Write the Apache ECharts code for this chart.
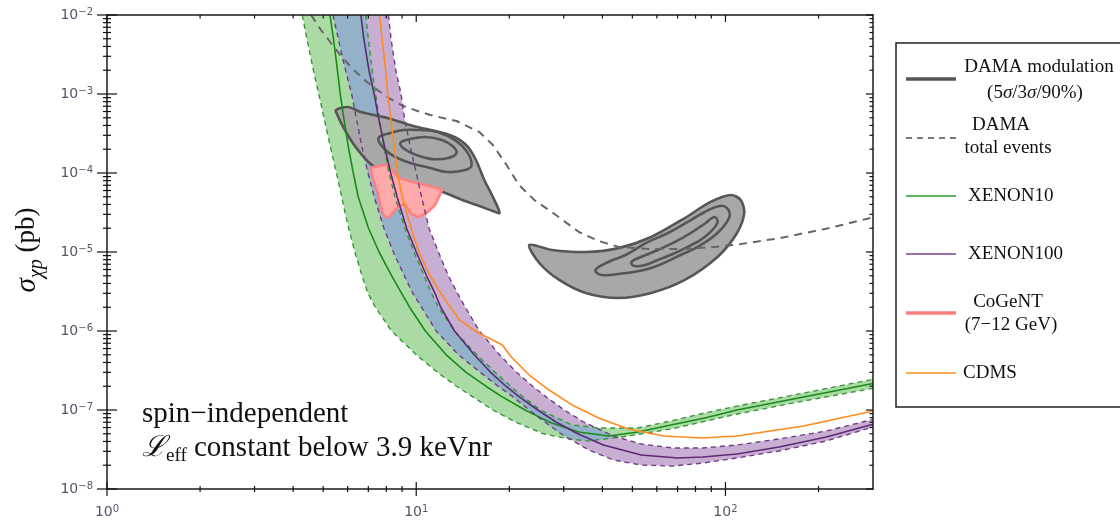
<!DOCTYPE html>
<html>
<head>
<meta charset="utf-8">
<script src="https://cdn.jsdelivr.net/npm/echarts@6/dist/echarts.min.js"></script>
<style>
html,body{margin:0;padding:0;background:#fff;}
#c{width:1120px;height:524px;}
</style>
</head>
<body>
<div id="c"></div>
<script>
// ---------- axis ticks ----------
const X_MAJOR = [1, 10, 100];
const X_MINOR = [2,3,4,5,6,7,8,9,20,30,40,50,60,70,80,90,200];
const Y_MAJOR = [1e-8,1e-7,1e-6,1e-5,1e-4,1e-3,1e-2];
const Y_MINOR_FACTORS = [2,3,4,5,6,7,8,9];

// ---------- data: [WIMP mass (GeV), sigma_chi-p (pb)] ----------
const XENON10_LOW = [[4.28,1e-2],[4.43,5e-3],[4.55,3e-3],[4.65,2e-3],[4.84,1e-3],[5.03,5e-4],[5.18,3e-4],[5.30,2e-4],[5.52,1e-4],[5.74,5e-5],[5.90,3e-5],[6.05,2e-5],[6.33,1e-5],[6.68,5e-6],[6.98,3e-6],[7.38,2e-6],[8.32,1e-6],[10.0,5e-7],[11.7,3e-7],[13.5,2e-7],[15.1,1.5e-7],[17.7,1e-7],[21.0,7e-8],[25.8,5e-8],[31.2,4.3e-8],[36.1,4.06e-8],[46.1,4.55e-8],[66.6,5.74e-8],[109,8.89e-8],[179,1.30e-7],[300,1.88e-7]];
const XENON10_MID = [[5.26,1e-2],[5.40,5e-3],[5.56,2e-3],[5.68,1e-3],[5.83,5e-4],[6.05,2e-4],[6.26,1e-4],[6.49,5e-5],[7.01,2e-5],[7.58,1e-5],[8.33,5e-6],[8.97,3e-6],[9.52,2e-6],[10.7,1e-6],[12.5,5e-7],[14.5,3e-7],[16.8,2e-7],[18.8,1.5e-7],[22.5,1e-7],[27.0,7e-8],[33.5,5.27e-8],[41.8,4.69e-8],[52.2,5.27e-8],[66.6,6.46e-8],[85.7,7.92e-8],[109,1.0e-7],[179,1.46e-7],[300,2.16e-7]];
const XENON10_HIGH = [[6.87,1e-2],[7.00,5e-3],[7.20,2e-3],[7.39,1e-3],[7.59,5e-4],[7.89,2e-4],[8.17,1e-4],[8.53,5e-5],[9.19,2e-5],[9.84,1e-5],[10.6,5e-6],[11.2,3e-6],[11.8,2e-6],[13.3,1e-6],[15.7,5e-7],[18.0,3e-7],[20.2,2e-7],[22.0,1.5e-7],[25.2,1e-7],[31.9,6.46e-8],[38.9,5.92e-8],[52.2,5.92e-8],[66.6,7.26e-8],[85.7,9.16e-8],[109,1.12e-7],[179,1.64e-7],[300,2.45e-7]];

const XENON100_LOW = [[5.38,1e-2],[5.60,5e-3],[5.76,3e-3],[5.91,2e-3],[6.18,1e-3],[6.40,5e-4],[6.70,2e-4],[6.98,1e-4],[7.31,5e-5],[7.86,2e-5],[8.43,1e-5],[9.15,5e-6],[9.75,3e-6],[10.4,2e-6],[11.6,1e-6],[13.7,5e-7],[16.1,3e-7],[18.4,2e-7],[20.4,1.5e-7],[23.2,1e-7],[26.1,7e-8],[29.4,5e-8],[36.1,3.12e-8],[43.4,2.33e-8],[53.4,2.01e-8],[67.6,1.95e-8],[84.4,2.13e-8],[109,2.47e-8],[149,3.03e-8],[212,4.06e-8],[300,6.1e-8]];
const XENON100_MID = [[6.62,1e-2],[6.77,5e-3],[7.03,2e-3],[7.31,1e-3],[7.55,5e-4],[7.93,2e-4],[8.27,1e-4],[8.67,5e-5],[9.31,2e-5],[10.0,1e-5],[10.8,5e-6],[11.5,3e-6],[12.0,2e-6],[13.3,1e-6],[15.4,5e-7],[17.4,3e-7],[19.5,2e-7],[21.4,1.5e-7],[24.7,1e-7],[28.4,7e-8],[33.3,5e-8],[40.3,3.61e-8],[53.4,2.69e-8],[70.2,2.47e-8],[84.4,2.54e-8],[109,2.77e-8],[149,3.40e-8],[212,4.55e-8],[300,6.6e-8]];
const XENON100_HIGH = [[8.13,1e-2],[8.29,5e-3],[8.59,2e-3],[8.93,1e-3],[9.16,5e-4],[9.60,2e-4],[10.0,1e-4],[10.4,5e-5],[11.0,2e-5],[11.8,1e-5],[12.7,5e-6],[13.6,3e-6],[14.4,2e-6],[16.0,1e-6],[18.6,5e-7],[21.1,3e-7],[23.8,2e-7],[26.1,1.5e-7],[30.1,1e-7],[34.9,7e-8],[43.4,4.69e-8],[53.4,3.71e-8],[67.6,3.30e-8],[84.4,3.30e-8],[109,3.61e-8],[149,4.30e-8],[212,5.42e-8],[300,7.6e-8]];

// tip of the region where both bands overlap
const OVERLAP_TIP = [[31.5,4.3e-8],[36.1,4.06e-8],[45,4.5e-8],[43.4,4.69e-8],[38.5,5.9e-8]];

const CDMS = [[7.61,1e-2],[7.76,5e-3],[7.96,2e-3],[8.09,1e-3],[8.26,5e-4],[8.51,2e-4],[8.70,1e-4],[9.01,5e-5],[9.62,2e-5],[10.2,1e-5],[11.1,5e-6],[12.0,3e-6],[12.9,2e-6],[13.8,1.38e-6],[15.7,9.71e-7],[19.0,6.65e-7],[20.3,4.69e-7],[23.2,2.77e-7],[26.9,1.79e-7],[31.9,1.16e-7],[38.9,7.92e-8],[48.5,5.74e-8],[63.3,4.69e-8],[84.4,4.43e-8],[109,4.69e-8],[179,6.27e-8],[300,9.7e-8]];

const DAMA_TOTAL = [[4.57,1e-2],[4.92,6.46e-3],[5.30,4.42e-3],[5.75,2.94e-3],[6.28,2.01e-3],[6.87,1.46e-3],[7.50,1.12e-3],[8.25,8.65e-4],[9.08,7.05e-4],[10.1,6.09e-4],[11.1,5.42e-4],[13.5,4.55e-4],[16.0,3.30e-4],[17.7,2.26e-4],[19.6,1.26e-4],[21.5,7.05e-5],[24.1,4.55e-5],[28.3,2.94e-5],[33.6,1.79e-5],[38.9,1.38e-5],[45.1,1.16e-5],[56.2,1.09e-5],[71.8,1.09e-5],[92.2,1.16e-5],[112,1.26e-5],[150,1.50e-5],[217,2.01e-5],[300,2.75e-5]];

const DAMA_NA_OUTER = [[5.50,6.27e-4],[6.01,6.84e-4],[6.62,5.92e-4],[8.07,4.97e-4],[9.78,3.94e-4],[11.9,3.30e-4],[13.3,2.86e-4],[14.6,2.20e-4],[15.6,1.46e-4],[16.6,8.15e-5],[17.7,4.97e-5],[18.6,3.12e-5],[17.7,3.30e-5],[16.0,3.82e-5],[14.1,4.55e-5],[12.2,5.74e-5],[10.8,6.84e-5],[9.35,7.92e-5],[8.07,9.44e-5],[7.12,1.30e-4],[6.37,2.13e-4],[5.83,3.71e-4],[5.54,5.58e-4]];
const DAMA_NA_MID = [[7.55,2.77e-4],[8.25,3.21e-4],[9.08,3.50e-4],[10.3,3.50e-4],[11.7,3.30e-4],[13.3,2.62e-4],[14.6,1.85e-4],[15.1,1.26e-4],[14.4,1.09e-4],[12.6,1.03e-4],[11.1,1.16e-4],[9.57,1.34e-4],[8.56,1.60e-4],[7.84,2.07e-4]];
const DAMA_NA_INNER = [[8.89,2.40e-4],[9.57,2.69e-4],[10.7,2.86e-4],[12.1,2.62e-4],[13.1,2.20e-4],[13.5,1.79e-4],[12.7,1.55e-4],[11.3,1.50e-4],[10.0,1.69e-4],[9.16,2.01e-4]];
const DAMA_I_OUTER = [[23.2,1.23e-5],[27.5,1.06e-5],[35.3,1.0e-5],[45.1,1.12e-5],[57.5,1.55e-5],[73.9,2.69e-5],[89.5,4.30e-5],[104,5.27e-5],[112,4.55e-5],[115,3.12e-5],[109,1.74e-5],[94.2,8.65e-6],[73.9,4.43e-6],[57.5,3.03e-6],[45.1,2.62e-6],[35.3,3.03e-6],[29.0,4.43e-6],[25.0,7.26e-6]];
const DAMA_I_MID = [[38.0,5.92e-6],[41.8,7.47e-6],[47.5,9.16e-6],[56.2,1.34e-5],[65.2,1.74e-5],[75.5,2.40e-5],[85.7,3.21e-5],[95.7,3.82e-5],[101,3.61e-5],[103,2.77e-5],[94.2,1.74e-5],[81.3,1.16e-5],[73.9,9.71e-6],[57.5,6.27e-6],[45.1,5.27e-6],[39.7,5.12e-6]];
const DAMA_I_INNER = [[49.6,7.47e-6],[54.2,8.89e-6],[60.5,1.06e-5],[68.7,1.34e-5],[77.2,1.74e-5],[86.3,2.33e-5],[92.2,2.77e-5],[94.2,2.33e-5],[85.7,1.55e-5],[75.5,1.16e-5],[68.7,9.71e-6],[60.5,7.92e-6],[55.0,6.84e-6],[50.7,6.65e-6]];

const COGENT = [[7.12,1.16e-4],[8.07,1.26e-4],[8.37,1.09e-4],[8.75,8.65e-5],[9.78,7.69e-5],[11.7,6.46e-5],[12.1,6.09e-5],[11.5,3.94e-5],[10.8,3.12e-5],[10.1,2.77e-5],[9.57,3.12e-5],[9.22,3.94e-5],[8.89,3.94e-5],[8.56,3.40e-5],[8.07,2.69e-5],[7.78,3.12e-5],[7.50,5.58e-5],[7.23,8.89e-5]];

const LEGEND_ITEMS = ['DAMA modulation','(5σ/3σ/90%)','DAMA','total events','XENON10','XENON100','CoGeNT','(7\u221212 GeV)','CDMS'];

// ---------- helpers ----------
const SERIF = '"Liberation Serif","DejaVu Serif",serif';
const X_MIN = 1, X_MAX = 300, Y_MIN = 1e-8, Y_MAX = 1e-2;

function polySeries(pts, style, z, smooth) {
  return {
    type: 'custom', z: z, silent: true, clip: true, animation: false,
    data: pts, encode: {x: 0, y: 1},
    renderItem: function (params, api) {
      if (params.dataIndex !== 0) return null;
      const points = pts.map(p => api.coord(p));
      return {type: 'polygon', shape: {points: points, smooth: smooth || 0}, style: Object.assign({}, style)};
    }
  };
}
function lineSeries(pts, color, width, dash, z) {
  return {
    type: 'line', data: pts, symbol: 'none', showSymbol: false, silent: true, z: z,
    animation: false, clip: true, smooth: false,
    lineStyle: {color: color, width: width, type: dash || 'solid'}
  };
}
function powLabel(v) {
  const e = Math.log10(v);
  const r = Math.round(e);
  if (Math.abs(e - r) > 1e-6) return '';
  return '{b|10}{e|' + (r < 0 ? '\u2212' + (-r) : String(r)) + '}';
}
const LABEL_RICH = {
  b: {fontFamily: '"DejaVu Sans",sans-serif', fontSize: 14, color: '#5a5268', lineHeight: 15, verticalAlign: 'bottom'},
  e: {fontFamily: '"DejaVu Sans",sans-serif', fontSize: 10, color: '#5a5268', lineHeight: 10, verticalAlign: 'top'}
};

const greenBand = XENON10_LOW.concat(XENON10_HIGH.slice().reverse());
const purpleBand = XENON100_LOW.concat(XENON100_HIGH.slice().reverse());
const overlap = XENON100_LOW.filter(p => p[0] <= 29.4)
  .concat(OVERLAP_TIP)
  .concat(XENON10_HIGH.filter(p => p[0] <= 31.9).reverse());

const Y_MINOR = [];
Y_MAJOR.slice(0, -1).forEach(d => Y_MINOR_FACTORS.forEach(f => Y_MINOR.push(f * d)));

const chart = echarts.init(document.getElementById('c'), null, {renderer: 'canvas'});

const axisLineStyle = {show: true, lineStyle: {color: '#1a1a1a', width: 1.5}};
const option = {
  backgroundColor: '#ffffff',
  animation: false,
  grid: {left: 107, top: 15, width: 766, height: 474, containLabel: false, outerBoundsMode: 'none'},
  xAxis: [
    {type: 'log', logBase: 10, min: X_MIN, max: X_MAX, position: 'bottom', z: 10,
     axisLine: axisLineStyle, axisTick: {show: false}, minorTick: {show: false}, splitLine: {show: false},
     axisLabel: {show: true, margin: 15, formatter: powLabel, rich: LABEL_RICH, showMaxLabel: false, hideOverlap: false}},
    {type: 'log', logBase: 10, min: X_MIN, max: X_MAX, position: 'top', z: 10,
     axisLine: axisLineStyle, axisTick: {show: false}, splitLine: {show: false}, axisLabel: {show: false}}
  ],
  yAxis: [
    {type: 'log', logBase: 10, min: Y_MIN, max: Y_MAX, interval: 1, position: 'left', z: 10,
     axisLine: axisLineStyle, axisTick: {show: false}, minorTick: {show: false}, splitLine: {show: false},
     axisLabel: {show: true, margin: 14, formatter: powLabel, rich: LABEL_RICH, hideOverlap: false}},
    {type: 'log', logBase: 10, min: Y_MIN, max: Y_MAX, interval: 1, position: 'right', z: 10,
     axisLine: axisLineStyle, axisTick: {show: false}, splitLine: {show: false}, axisLabel: {show: false}}
  ],
  series: [
    polySeries(greenBand, {fill: '#aadba5', stroke: 'none'}, 1),
    polySeries(purpleBand, {fill: '#c9aed3', stroke: 'none'}, 1),
    polySeries(overlap, {fill: '#93b2c9', stroke: 'none'}, 1),

    polySeries(DAMA_NA_OUTER, {fill: '#a8a8a8', stroke: '#565656', lineWidth: 2.6, lineJoin: 'round'}, 3, 0.3),
    polySeries(DAMA_NA_MID, {fill: 'none', stroke: '#565656', lineWidth: 2.6}, 3, 0.4),
    polySeries(DAMA_NA_INNER, {fill: 'none', stroke: '#565656', lineWidth: 2.6}, 3, 0.4),
    polySeries(DAMA_I_OUTER, {fill: '#a8a8a8', stroke: '#565656', lineWidth: 2.6, lineJoin: 'round'}, 3, 0.3),
    polySeries(DAMA_I_MID, {fill: 'none', stroke: '#565656', lineWidth: 2.6}, 3, 0.4),
    polySeries(DAMA_I_INNER, {fill: 'none', stroke: '#565656', lineWidth: 2.6}, 3, 0.4),

    polySeries(COGENT, {fill: '#ffaaaa', stroke: '#ff8080', lineWidth: 2.6, lineJoin: 'round'}, 4, 0.1),

    lineSeries(DAMA_TOTAL, '#666666', 2, [8, 6], 5),
    lineSeries(XENON10_LOW, '#3a953a', 1.4, [5, 4], 6),
    lineSeries(XENON10_HIGH, '#3a953a', 1.4, [5, 4], 6),
    lineSeries(XENON10_MID, '#1b8a1b', 1.6, 'solid', 6),
    lineSeries(XENON100_LOW, '#713d86', 1.4, [5, 4], 6),
    lineSeries(XENON100_HIGH, '#713d86', 1.4, [5, 4], 6),
    lineSeries(XENON100_MID, '#5f2a74', 1.6, 'solid', 6),
    lineSeries(CDMS, '#ff8a1f', 1.6, 'solid', 7),

    {
      type: 'custom', z: 20, silent: true, clip: false, animation: false,
      data: [[X_MIN, Y_MIN]], encode: {x: 0, y: 1},
      renderItem: function (params, api) {
        const bl = api.coord([X_MIN, Y_MIN]), tr = api.coord([X_MAX, Y_MAX]);
        const L = bl[0], B = bl[1], R = tr[0], T = tr[1];
        const ch = [];
        const seg = (x1, y1, x2, y2) => ch.push({type: 'line', shape: {x1: x1, y1: y1, x2: x2, y2: y2}, style: {stroke: '#111', lineWidth: 1.2}});
        X_MAJOR.forEach(v => { const x = api.coord([v, Y_MIN])[0]; seg(x, B - 7, x, B + 7); seg(x, T, x, T + 7); });
        X_MINOR.forEach(v => { const x = api.coord([v, Y_MIN])[0]; seg(x, B - 3, x, B + 3); seg(x, T, x, T + 3.5); });
        Y_MAJOR.forEach(v => { const y = api.coord([X_MIN, v])[1]; seg(L - 10, y, L + 10, y); seg(R - 7, y, R, y); });
        Y_MINOR.forEach(v => { const y = api.coord([X_MIN, v])[1]; seg(L - 4, y, L + 4, y); seg(R - 3.5, y, R, y); });
        return {type: 'group', children: ch};
      }
    }
  ],
  graphic: [
    // y-axis title
    {type: 'text', x: 27, y: 250, rotation: Math.PI / 2, silent: true,
     style: {text: '{s|σ}{c|χp}{n| (pb)}', align: 'center', verticalAlign: 'middle', fill: '#111',
       rich: {
         s: {fontFamily: SERIF, fontStyle: 'italic', fontSize: 29, lineHeight: 40, verticalAlign: 'middle', fill: '#111'},
         c: {fontFamily: SERIF, fontStyle: 'italic', fontSize: 20, lineHeight: 22, verticalAlign: 'bottom', fill: '#111'},
         n: {fontFamily: SERIF, fontSize: 27, lineHeight: 40, verticalAlign: 'middle', fill: '#111'}
       }}},
    // annotation
    {type: 'text', x: 142, y: 414, silent: true,
     style: {text: 'spin\u2212independent', font: '29px ' + SERIF, fill: '#111', align: 'left', verticalAlign: 'middle'}},
    {type: 'text', x: 142, y: 448, silent: true,
     style: {text: '{L|\u2112}{s|eff}{n| constant below 3.9 keVnr}', align: 'left', verticalAlign: 'middle', fill: '#111',
       rich: {
         L: {fontFamily: SERIF, fontStyle: 'italic', fontSize: 29, lineHeight: 36, verticalAlign: 'middle', fill: '#111'},
         s: {fontFamily: SERIF, fontSize: 19, lineHeight: 20, verticalAlign: 'bottom', fill: '#111'},
         n: {fontFamily: SERIF, fontSize: 29, lineHeight: 36, verticalAlign: 'middle', fill: '#111'}
       }}},
    // legend box
    {type: 'rect', silent: true, shape: {x: 896, y: 43, width: 240, height: 364}, style: {fill: '#fff', stroke: '#222', lineWidth: 1.5}},
    {type: 'line', silent: true, shape: {x1: 906, y1: 79, x2: 956, y2: 79}, style: {stroke: '#555', lineWidth: 3.5}},
    {type: 'line', silent: true, shape: {x1: 906, y1: 138, x2: 956, y2: 138}, style: {stroke: '#777', lineWidth: 1.8, lineDash: [6, 5]}},
    {type: 'line', silent: true, shape: {x1: 906, y1: 196, x2: 956, y2: 196}, style: {stroke: '#2a9a2a', lineWidth: 1.5}},
    {type: 'line', silent: true, shape: {x1: 906, y1: 254, x2: 956, y2: 254}, style: {stroke: '#7a3f8c', lineWidth: 1.5}},
    {type: 'line', silent: true, shape: {x1: 906, y1: 313, x2: 956, y2: 313}, style: {stroke: '#ff7f7f', lineWidth: 3.5}},
    {type: 'line', silent: true, shape: {x1: 906, y1: 373, x2: 956, y2: 373}, style: {stroke: '#ff8c1a', lineWidth: 1.5}},
    {type: 'text', silent: true, x: 1039, y: 67, style: {text: LEGEND_ITEMS[0], font: '19px ' + SERIF, fill: '#111', align: 'center', verticalAlign: 'middle'}},
    {type: 'text', silent: true, x: 1035, y: 93, style: {text: '(5{i|σ}/3{i|σ}/90%)', font: '19px ' + SERIF, fill: '#111', align: 'center', verticalAlign: 'middle',
      rich: {i: {fontFamily: SERIF, fontStyle: 'italic', fontSize: 19, fill: '#111'}}}},
    {type: 'text', silent: true, x: 1001, y: 125, style: {text: LEGEND_ITEMS[2], font: '19px ' + SERIF, fill: '#111', align: 'center', verticalAlign: 'middle'}},
    {type: 'text', silent: true, x: 1008, y: 148, style: {text: LEGEND_ITEMS[3], font: '19px ' + SERIF, fill: '#111', align: 'center', verticalAlign: 'middle'}},
    {type: 'text', silent: true, x: 968, y: 196, style: {text: LEGEND_ITEMS[4], font: '19px ' + SERIF, fill: '#111', align: 'left', verticalAlign: 'middle'}},
    {type: 'text', silent: true, x: 968, y: 254, style: {text: LEGEND_ITEMS[5], font: '19px ' + SERIF, fill: '#111', align: 'left', verticalAlign: 'middle'}},
    {type: 'text', silent: true, x: 1008, y: 302, style: {text: LEGEND_ITEMS[6], font: '19px ' + SERIF, fill: '#111', align: 'center', verticalAlign: 'middle'}},
    {type: 'text', silent: true, x: 1011, y: 325, style: {text: LEGEND_ITEMS[7], font: '19px ' + SERIF, fill: '#111', align: 'center', verticalAlign: 'middle'}},
    {type: 'text', silent: true, x: 963, y: 373, style: {text: LEGEND_ITEMS[8], font: '19px ' + SERIF, fill: '#111', align: 'left', verticalAlign: 'middle'}}
  ]
};
chart.setOption(option);
</script>
</body>
</html>
